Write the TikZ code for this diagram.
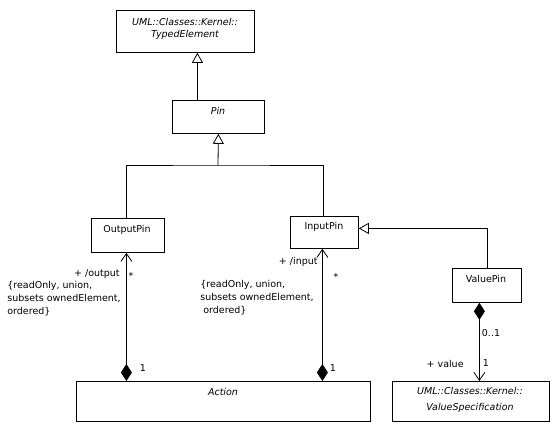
\documentclass[tikz,border=0pt]{standalone}
\usepackage{fontspec}
\setmainfont{DejaVu Sans}
\usetikzlibrary{arrows.meta}

\begin{document}
\begin{tikzpicture}[x=1pt, y=-1pt, line width=0.8pt,
        font=\fontsize{9.5}{13}\selectfont,
        umlclass/.style={draw, anchor=north west, inner sep=0pt},
        txt/.style={inner sep=0pt},
        gen/.style={-{Triangle[open, length=10pt, width=11pt]}},
        assoc/.style={{Straight Barb[length=8pt, width=11pt]}-{Diamond[length=17pt, width=11pt]}},
        part/.style={{Diamond[length=17pt, width=11pt]}-{Straight Barb[length=8pt, width=11pt]}}]
        \useasboundingbox (0,0) rectangle (560,432);
        % the class boxes
        \node[umlclass, minimum width=138pt, minimum height=42pt] (typed) at (116,10) {};
        \node[umlclass, minimum width=92pt, minimum height=33pt] (pin) at (172,100) {};
        \node[umlclass, minimum width=73pt, minimum height=34pt] (outpin) at (91,218) {};
        \node[umlclass, minimum width=68pt, minimum height=32pt] (inpin) at (290,216) {};
        \node[umlclass, minimum width=69pt, minimum height=34pt] (valpin) at (452,268) {};
        \node[umlclass, minimum width=294pt, minimum height=40pt] (action) at (76,381) {};
        \node[umlclass, minimum width=157pt, minimum height=40pt] (valspec) at (392,381) {};
        % class names
        \node[txt, align=center, font=\fontsize{9.5}{12.5}\selectfont\itshape] (typedname) at (185,29) {UML::Classes::Kernel::\\TypedElement};
        \node[txt, font=\fontsize{9.5}{12}\selectfont\itshape] (pinname) at (218,111) {Pin};
        \node[txt] (outname) at (127,230) {OutputPin};
        \node[txt] (inname) at (324,227) {InputPin};
        \node[txt] (valname) at (486,279) {ValuePin};
        \node[txt, font=\fontsize{9.5}{12}\selectfont\itshape] (actname) at (223,392) {Action};
        \node[txt, align=center, font=\fontsize{9.5}{16}\selectfont\itshape] (specname) at (470,400) {UML::Classes::Kernel::\\ValueSpecification};
        % generalizations
        \draw[gen] ([xshift=-21pt]pin.north) -- ([xshift=-21pt]pin.north |- typed.south);
        \coordinate (fork) at (218,165);
        \draw[gen] (fork) -- (pin.south);
        \draw ([xshift=-1.5pt]outpin.north) |- (fork) -| ([xshift=-1pt]inpin.north);
        \draw[gen] (valpin.north) |- ([yshift=4pt]inpin.east);
        % associations to Action
        \draw[assoc] ([xshift=-1.5pt]outpin.south) -- ([xshift=-1.5pt]outpin.south |- action.north);
        \draw[assoc] ([xshift=-2pt]inpin.south) -- ([xshift=-2pt]inpin.south |- action.north);
        % value of the ValuePin
        \draw[part] ([xshift=-7.5pt]valpin.south) -- ([xshift=-7.5pt]valpin.south |- valspec.north);
        % association end labels
        \node[txt, anchor=east] (outrole) at (120,274) {+ /output};
        \node[txt] (outmany) at (131,276) {*};
        \node[txt, anchor=west, align=left] (outprops) at (7,299) {\{readOnly, union,\\subsets ownedElement,\\ordered\}};
        \node[txt] (outone) at (143,368) {1};
        \node[txt, anchor=east] (inrole) at (318,262) {+ /input};
        \node[txt] (inmany) at (336,277) {*};
        \node[txt, anchor=west, align=left] (inprops) at (200,298) {\{readOnly, union,\\subsets ownedElement,\\\hspace{3pt}ordered\}};
        \node[txt] (inone) at (333,368) {1};
        \node[txt] (valopt) at (491,333) {0..1};
        \node[txt, anchor=east] (valrole) at (464,364) {+ value};
        \node[txt] (valone) at (486,363) {1};
\end{tikzpicture}
\end{document}
